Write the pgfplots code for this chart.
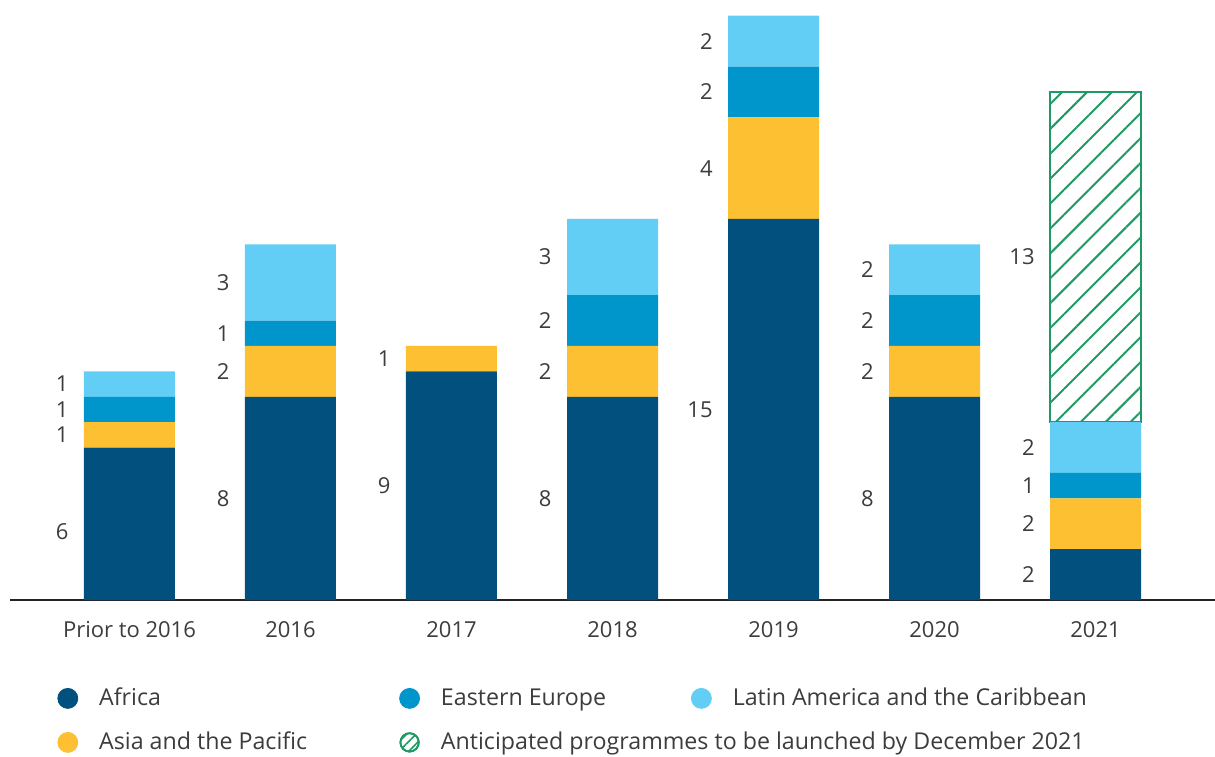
\documentclass[border=0pt]{standalone}
\usepackage{pgfplots}
\pgfplotsset{compat=1.18}
\usepackage{pgfplotstable}
\usepackage{fontspec}
\setmainfont{Open Sans}
\usetikzlibrary{patterns.meta}
\definecolor{afr}{RGB}{1,80,125}
\definecolor{asia}{RGB}{253,192,50}
\definecolor{ee}{RGB}{0,150,204}
\definecolor{la}{RGB}{99,206,245}
\definecolor{ggreen}{RGB}{30,155,100}
\definecolor{txt}{RGB}{60,60,60}
\definecolor{axc}{RGB}{35,35,35}

\pgfplotstableread{
x afr asia ee la
6 2 2 1 2
0 6 1 1 1
1 8 2 1 3
2 9 1 0 0
3 8 2 2 3
4 15 4 2 2
5 8 2 2 2
}\bars

\pgfplotstableread{
x y
6 13
}\antic

\pgfplotstableread{
x y label
-0.376 2.7 6
-0.376 6.5 1
-0.376 7.5 1
-0.376 8.5 1
0.624 4 8
0.624 9 2
0.624 10.5 1
0.624 12.5 3
1.624 4.5 9
1.624 9.5 1
2.624 4 8
2.624 9 2
2.624 11 2
2.624 13.5 3
3.624 7.5 15
3.624 17 4
3.624 20 2
3.624 22 2
4.624 4 8
4.624 9 2
4.624 11 2
4.624 13 2
5.624 1 2
5.624 3 2
5.624 4.5 1
5.624 6 2
5.624 13.5 13
}\labels

\begin{document}
\begin{tikzpicture}
\begin{axis}[
  name=main,
  scale only axis, width=602.5pt, height=300pt,
  xmin=-0.742, xmax=6.742, ymin=0, ymax=23.62,
  ybar stacked, bar width=45.5pt,
  axis x line*=bottom, axis y line=none,
  x axis line style={-, line width=1.4pt, color=axc},
  xtick={0,1,2,3,4,5,6},
  xticklabels={Prior to 2016,2016,2017,2018,2019,2020,2021},
  xtick style={draw=none}, ytick=\empty,
  xticklabel style={font=\fontsize{11}{13}\selectfont, text=txt, yshift=-7pt},
  legend columns=3,
  legend cell align=left,
  legend style={at={(rel axis cs:0.039,0)}, anchor=north west, yshift=-43.7pt,
    draw=none, fill=none, inner sep=0pt, row sep=11.4pt,
    font=\fontsize{11.6}{13}\selectfont, text=txt,
    nodes={inner sep=0pt, anchor=west, text height=9pt, text depth=1.6pt},
    /tikz/every odd column/.append style={column sep=10.5pt}},
]
\addplot[forget plot, fill=afr, draw=none] table[x=x,y=afr]{\bars};
\addplot[forget plot, fill=asia, draw=none] table[x=x,y=asia]{\bars};
\addplot[forget plot, fill=ee, draw=none] table[x=x,y=ee]{\bars};
\addplot[forget plot, fill=la, draw=none] table[x=x,y=la]{\bars};
\addplot[forget plot, fill=white, draw=ggreen, line width=1.2pt,
  postaction={pattern={Lines[angle=45,distance=8.8pt,line width=1pt]}, pattern color=ggreen}]
  table[x=x,y=y]{\antic};

\addlegendimage{legend image code/.code={\fill[afr] (0pt,0pt) circle (5pt);}}
\addlegendentry{\makebox[150pt][l]{Africa}}
\addlegendimage{legend image code/.code={\fill[ee] (0pt,0pt) circle (5pt);}}
\addlegendentry{\makebox[125pt][l]{Eastern Europe}}
\addlegendimage{legend image code/.code={\fill[la] (0pt,0pt) circle (5pt);}}
\addlegendentry{Latin America and the Caribbean}
\addlegendimage{legend image code/.code={\fill[asia] (0pt,0pt) circle (5pt);}}
\addlegendentry{\makebox[150pt][l]{Asia and the Pacific}}
\addlegendimage{legend image code/.code={\draw[ggreen, line width=0.9pt, fill=white, postaction={pattern={Lines[angle=45,distance=3.4pt,line width=0.8pt]}, pattern color=ggreen}] (0pt,0pt) circle (4.6pt);}}
\addlegendentry{\makebox[125pt][l]{Anticipated programmes to be launched by December 2021}}
\end{axis}
\begin{axis}[
  at={(main.south west)}, anchor=south west,
  scale only axis, width=602.5pt, height=300pt,
  xmin=-0.742, xmax=6.742, ymin=0, ymax=23.62,
  hide axis,
]
\addplot[draw=none, mark=none, nodes near coords, point meta=explicit symbolic,
  nodes near coords style={anchor=east, inner sep=0pt, font=\fontsize{11}{13}\selectfont, text=txt}]
  table[x=x,y=y,meta=label]{\labels};
\end{axis}
\pgfresetboundingbox
\path[use as bounding box] ([xshift=-5pt,yshift=-78pt]main.south west) rectangle (main.north east);
\end{tikzpicture}
\end{document}
